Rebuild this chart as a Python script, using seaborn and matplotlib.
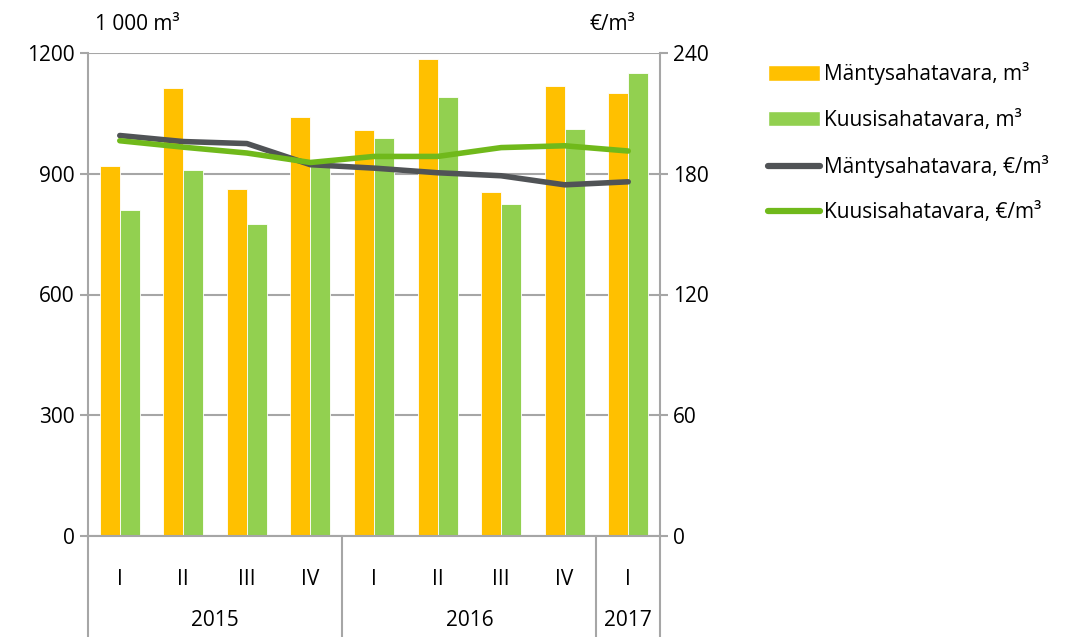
import matplotlib
matplotlib.use("Agg")
import matplotlib.pyplot as plt
import matplotlib.transforms as mtransforms
from matplotlib.patches import Patch
from matplotlib.lines import Line2D
import numpy as np
import pandas as pd
import seaborn as sns

quarters = ["I", "II", "III", "IV", "I", "II", "III", "IV", "I"]
years = ["2015", "2016", "2017"]
year_spans = [(0, 3), (4, 7), (8, 8)]
periods = [f"{y} {q}" for y, q in zip(
    ["2015"] * 4 + ["2016"] * 4 + ["2017"], quarters)]

manty_m3 = [920, 1114, 862, 1040, 1008, 1186, 855, 1119, 1100]
kuusi_m3 = [810, 909, 775, 920, 989, 1091, 825, 1010, 1151]
manty_eur = [199.0, 196.0, 195.0, 184.5, 182.8, 180.5, 179.0, 174.5, 176.0]
kuusi_eur = [196.4, 193.2, 190.3, 185.6, 188.6, 188.6, 193.0, 193.9, 191.3]

names_m3 = ["Mäntysahatavara, m³", "Kuusisahatavara, m³"]
names_eur = ["Mäntysahatavara, €/m³", "Kuusisahatavara, €/m³"]
bar_colors = ["#FFC000", "#92D050"]
line_colors = ["#505356", "#70B91B"]
grid_col = "#A6A6A6"

bars = pd.DataFrame({
    "period": periods * 2,
    "value": manty_m3 + kuusi_m3,
    "series": [names_m3[0]] * 9 + [names_m3[1]] * 9,
})
lines = pd.DataFrame({
    "period": periods * 2,
    "value": manty_eur + kuusi_eur,
    "series": [names_eur[0]] * 9 + [names_eur[1]] * 9,
})

sns.set_style("white")
plt.rcParams["font.family"] = ["Open Sans", "DejaVu Sans"]
plt.rcParams["font.size"] = 15
plt.rcParams["text.color"] = "black"
plt.rcParams["xtick.color"] = "black"
plt.rcParams["ytick.color"] = "black"

fig = plt.figure(figsize=(10.84, 6.37), dpi=100)
ax = fig.add_axes([88 / 1084, 1 - 536 / 637, 572 / 1084, 483 / 637])

sns.barplot(data=bars, x="period", y="value", hue="series", order=periods,
            hue_order=names_m3, palette=bar_colors, width=0.63,
            saturation=1, edgecolor="white", linewidth=0.6, ax=ax,
            legend=False)
ax.set_ylim(0, 1200)
ax.set_yticks([0, 300, 600, 900, 1200])
ax.set_xlim(-0.5, 8.5)
ax.yaxis.grid(True, color=grid_col, linewidth=1.5)
ax.set_axisbelow(True)
ax.set_xlabel("")
ax.set_ylabel("")
ax.set_xticks(range(9))
ax.set_xticklabels(quarters)
ax.tick_params(axis="x", length=0, pad=24, labelsize=15, labelcolor="black")
ax.tick_params(axis="y", length=6, color=grid_col, width=1.5, labelsize=15,
               left=True, labelcolor="black")
ax.spines["top"].set_visible(False)
for s in ["left", "right", "bottom"]:
    ax.spines[s].set_color(grid_col)
    ax.spines[s].set_linewidth(1.5)

ax2 = ax.twinx()
sns.lineplot(data=lines, x="period", y="value", hue="series",
             hue_order=names_eur, palette=line_colors, linewidth=4,
             ax=ax2, legend=False, sort=False)
for ln in ax2.lines:
    ln.set_solid_capstyle("round")
ax2.set_ylim(0, 240)
ax2.set_yticks([0, 60, 120, 180, 240])
ax2.set_xlim(-0.5, 8.5)
ax2.set_xlabel("")
ax2.set_ylabel("")
ax2.tick_params(axis="y", length=6, color=grid_col, width=1.5, labelsize=15,
                right=True, labelcolor="black")
for s in ax2.spines.values():
    s.set_visible(False)

# category separators and year labels
trans = mtransforms.blended_transform_factory(ax.transData, ax.transAxes)
for xv in [-0.5, 3.5, 7.5, 8.5]:
    ax.plot([xv, xv], [0, -0.21], color=grid_col, linewidth=1.5,
            transform=trans, clip_on=False)
for yr, (a, b) in zip(years, year_spans):
    ax.text((a + b) / 2, -0.174, yr, transform=trans, ha="center",
            va="center", fontsize=15)

fig.text(95 / 1084, 1 - 25 / 637, "1 000 m³", fontsize=15, va="center")
fig.text(635 / 1084, 1 - 25 / 637, "€/m³", fontsize=15, va="center",
         ha="right")

handles = [Patch(facecolor=c, label=n) for c, n in zip(bar_colors, names_m3)]
handles += [Line2D([0], [0], color=c, linewidth=4.5, solid_capstyle="round",
                   label=n) for c, n in zip(line_colors, names_eur)]
fig.legend(handles=handles, loc="upper left",
           bbox_to_anchor=(760 / 1084, 1 - 54 / 637), frameon=False,
           fontsize=15, handlelength=2.5, handleheight=0.75,
           handletextpad=0.15, labelspacing=1.17, borderaxespad=0)

fig.savefig("out.png", dpi=100)
